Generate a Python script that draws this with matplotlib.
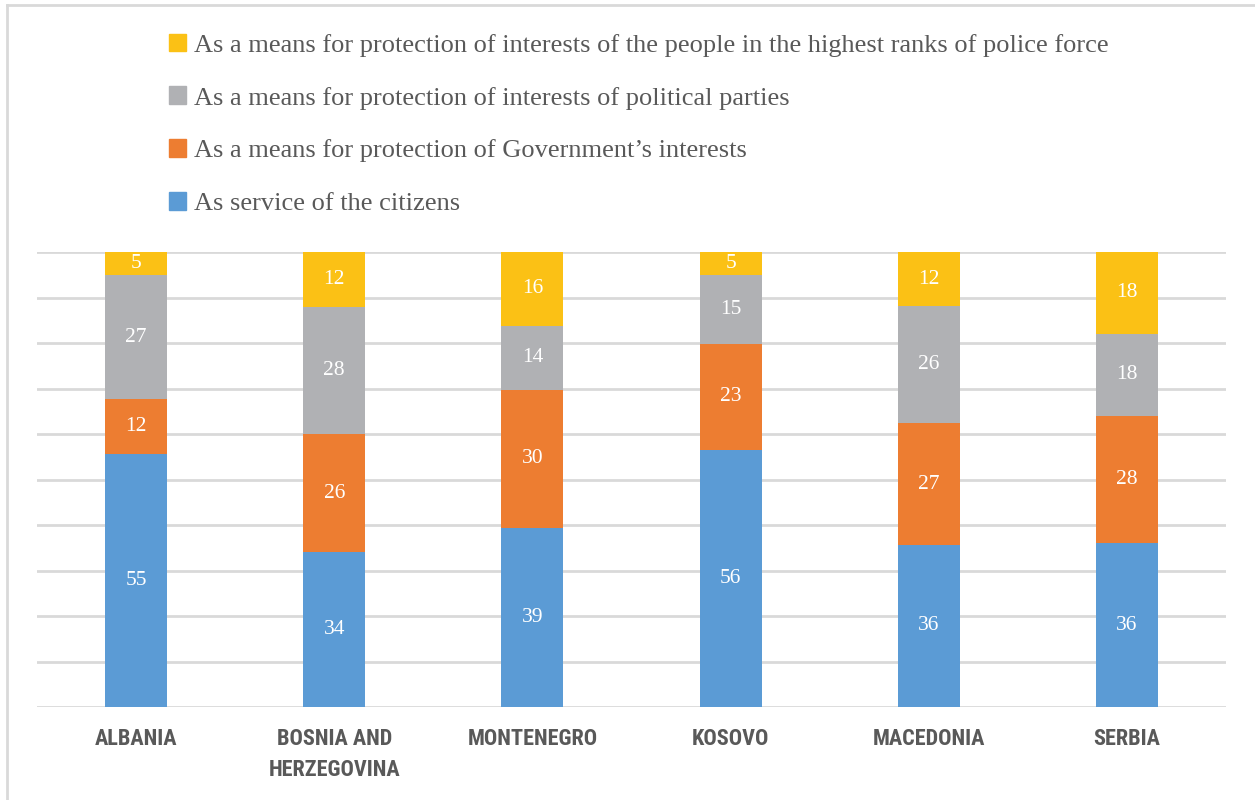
import matplotlib.pyplot as plt
import numpy as np
from matplotlib import font_manager
from matplotlib.lines import Line2D
from matplotlib.patches import Patch

countries = ["ALBANIA", "BOSNIA AND\nHERZEGOVINA", "MONTENEGRO", "KOSOVO", "MACEDONIA", "SERBIA"]
citizens = [55, 34, 39, 56, 36, 36]
government = [12, 26, 30, 23, 27, 28]
parties = [27, 28, 14, 15, 26, 18]
police_ranks = [5, 12, 16, 5, 12, 18]

series_names = [
    "As service of the citizens",
    "As a means for protection of Government\u2019s interests",
    "As a means for protection of interests of political parties",
    "As a means for protection of interests of the people in the highest ranks of police force",
]
series_colors = ["#5B9BD5", "#ED7D31", "#B0B1B4", "#FBC115"]

available = {f.name for f in font_manager.fontManager.ttflist}
serif = "Liberation Serif" if "Liberation Serif" in available else "DejaVu Serif"
narrow = next((n for n in ["Liberation Sans Narrow", "DejaVu Sans Condensed", "Roboto Condensed"] if n in available), "DejaVu Sans")

W, H = 1255, 800
fig = plt.figure(figsize=(W / 100, H / 100), dpi=100)
fig.patch.set_facecolor("white")

# outer frame (left and top edges)
fig.add_artist(Line2D([7 / W, 7 / W], [0, 1 - 5 / H], transform=fig.transFigure, color="#D9D9D9", lw=2))
fig.add_artist(Line2D([7 / W, 1], [1 - 5 / H, 1 - 5 / H], transform=fig.transFigure, color="#D9D9D9", lw=2))

left, right, bottom, top = 37, 1226, 707, 252
ax = fig.add_axes([left / W, 1 - bottom / H, (right - left) / W, (bottom - top) / H])

data = np.array([citizens, government, parties, police_ranks], dtype=float)
shares = data / data.sum(axis=0) * 100
x = np.arange(len(countries))
width = 0.313
base = np.zeros(len(countries))
for vals, shr, col in zip(data, shares, series_colors):
    ax.bar(x, shr, width, bottom=base, color=col, zorder=3)
    for xi, b, s, v in zip(x, base, shr, vals):
        ax.text(xi, b + s / 2, f"{int(v)}", ha="center", va="center", color="white",
                fontsize=15.5, family=serif, zorder=4)
    base += shr

ax.set_xlim(-0.5, len(countries) - 0.5)
ax.set_ylim(0, 100)
for gy in np.arange(0, 101, 10):
    ax.axhline(gy, color="#D9D9D9", lw=2, zorder=1)
for s in ax.spines.values():
    s.set_visible(False)
ax.set_yticks([])
ax.set_xticks(x)
ax.set_xticklabels(countries, family=narrow, fontweight="bold", fontsize=16, color="#595959",
                   linespacing=1.55)
ax.tick_params(axis="x", length=0, pad=15)

handles = [Patch(color=c) for c in series_colors][::-1]
leg = fig.legend(handles, series_names[::-1], loc="upper left", bbox_to_anchor=(158 / W, 1 - 23 / H),
                 frameon=False, prop={"family": serif, "size": 19}, handlelength=0.65, handleheight=0.65,
                 handletextpad=0.3, labelspacing=1.13, borderaxespad=0)
for t in leg.get_texts():
    t.set_color("#595959")

fig.savefig("out.png", dpi=100, facecolor="white")
